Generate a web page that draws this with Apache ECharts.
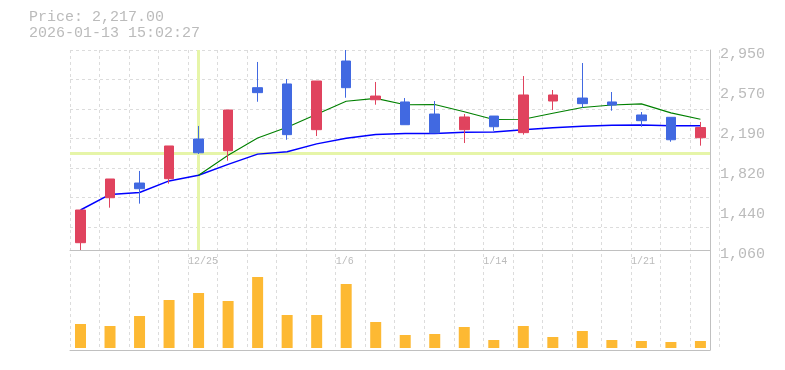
<!DOCTYPE html>
<html>
<head>
<meta charset="utf-8">
<script src="https://cdn.jsdelivr.net/npm/echarts@6/dist/echarts.min.js"></script>
<style>
html,body{margin:0;padding:0;background:#fff;}
#c{width:785px;height:370px;}
</style>
</head>
<body>
<div id="c"></div>
<script>
// ---- data ----
const dates = ['12/19','12/22','12/23','12/24','12/25','12/26','12/29','12/30','1/5','1/6','1/7','1/8','1/9','1/13','1/14','1/15','1/16','1/19','1/20','1/21','1/22','1/23'];
const openP  = [1129,1554,1693,1734,2109,1998,2594,2629,2197,2846,2480,2459,2345,2197,2326,2169,2468,2496,2459,2336,2314,2121];
const closeP = [1438,1731,1639,2043,1979,2383,2547,2150,2657,2594,2515,2244,2166,2317,2225,2525,2525,2443,2430,2282,2102,2217];
const lowP   = [1060,1460,1498,1687,1967,1904,2461,2102,2137,2499,2433,2244,2166,2071,2187,2150,2383,2405,2376,2225,2083,2046];
const highP  = [1438,1731,1807,2043,2232,2383,2837,2676,2657,2950,2648,2496,2468,2345,2326,2704,2572,2827,2553,2364,2314,2270];
const ma5    = [null,null,null,null,1766,1955,2118,2220,2343,2466,2493,2432,2435,2367,2293,2295,2352,2407,2430,2441,2356,2295];
const ma25   = [1438,1585,1603,1713,1766,1869,1966,1989,2063,2116,2152,2160,2161,2172,2175,2197,2216,2229,2240,2242,2235,2234];
const volume = [24,22,32,48,55,47,71,33,33,64,26,13,14,21,8,22,11,17,8,7,6,7];
const yTickValues = [1060,1438,1816,2194,2572,2950];
const yTickLabels = ['1,060','1,440','1,820','2,190','2,570','2,950'];
const xLabelIdx = [4,9,14,19];
const crossIdx = 4;
const titlePrice = 'Price: 2,217.00';
const titleTime = '2026-01-13 15:02:27';

// ---- layout constants ----
const cell = 29.52;
const xMin = -10.5 / cell;
const xMax = xMin + 640 / cell;
const FONT = 'Liberation Mono';
const txt = '#bbb';
const border = '#c0c0c0';
const gridCol = '#dcdcdc';
const upCol = '#e0435e';
const downCol = '#4169e1';

const chart = echarts.init(document.getElementById('c'), null, {renderer: 'canvas'});
const hidden = {show:false};
chart.setOption({
  animation: false,
  backgroundColor: '#fff',
  title: [
    {text: titlePrice, left: 29, top: 10, padding: 0, textStyle: {fontFamily: FONT, fontSize: 15, fontWeight: 'normal', color: txt}},
    {text: titleTime, left: 29, top: 25.5, padding: 0, textStyle: {fontFamily: FONT, fontSize: 15, fontWeight: 'normal', color: txt}}
  ],
  grid: [
    {left: 70, top: 50, width: 640, height: 200},
    {left: 70, top: 250, width: 640, height: 100},
    {left: 70, top: 50, width: 22 * cell, height: 300}
  ],
  xAxis: [
    {type: 'value', gridIndex: 0, min: xMin, max: xMax, position: 'bottom',
      axisLine: {show: true, onZero: false, lineStyle: {color: border, width: 1}},
      axisTick: hidden, splitLine: hidden,
      axisLabel: {show: true, customValues: xLabelIdx.map(i => i + xMin), align: 'left', margin: 6,
        formatter: v => dates[Math.round(v - xMin)],
        fontFamily: FONT, fontSize: 10, color: txt}},
    {type: 'value', gridIndex: 1, min: xMin, max: xMax, position: 'bottom',
      axisLine: {show: true, onZero: false, lineStyle: {color: border, width: 1}},
      axisTick: hidden, splitLine: hidden, axisLabel: hidden},
    {type: 'value', gridIndex: 2, min: 0, max: 22, interval: 1,
      axisLine: hidden, axisTick: hidden, axisLabel: hidden,
      splitLine: {show: true, lineStyle: {color: gridCol, type: [3,3], width: 1}}}
  ],
  yAxis: [
    {type: 'value', gridIndex: 0, min: 1060, max: 2950, position: 'right',
      axisLine: {show: true, onZero: false, lineStyle: {color: border, width: 1}},
      axisTick: hidden, splitLine: hidden,
      axisLabel: {show: true, customValues: yTickValues, margin: 10, verticalAlign: 'top', lineHeight: 8,
        formatter: v => yTickLabels[yTickValues.indexOf(v)],
        fontFamily: FONT, fontSize: 15, color: txt}},
    {type: 'value', gridIndex: 0, min: 0, max: 200 / cell, interval: 1, inverse: true, position: 'left',
      axisLine: hidden, axisTick: hidden, axisLabel: hidden,
      splitLine: {show: true, lineStyle: {color: gridCol, type: [3,3], width: 1}}},
    {type: 'value', gridIndex: 1, min: -2, max: 98, position: 'right',
      axisLine: {show: true, onZero: false, lineStyle: {color: border, width: 1}},
      axisTick: hidden, splitLine: hidden, axisLabel: hidden},
    {type: 'value', gridIndex: 2, min: 0, max: 1,
      axisLine: hidden, axisTick: hidden, axisLabel: hidden, splitLine: hidden}
  ],
  series: [
    {type: 'line', name: 'cross', xAxisIndex: 0, yAxisIndex: 0, z: 1,
      data: closeP.map((c, i) => [i, c]), showSymbol: false, symbol: 'none',
      lineStyle: {opacity: 0}, silent: true,
      markLine: {z: 1, silent: true, symbol: 'none', animation: false,
        label: {show: false},
        lineStyle: {color: '#e6f5a8', width: 3, type: 'solid', opacity: 1},
        emphasis: {disabled: true},
        data: [{xAxis: crossIdx}, {yAxis: closeP[crossIdx]}]}},
    {type: 'line', name: 'MA25', xAxisIndex: 0, yAxisIndex: 0, z: 6,
      data: ma25.map((v, i) => [i, v]), symbol: 'none', showSymbol: false,
      lineStyle: {color: '#0000ff', width: 1.5}},
    {type: 'line', name: 'MA5', xAxisIndex: 0, yAxisIndex: 0, z: 6,
      data: ma5.map((v, i) => [i, v]), symbol: 'none', showSymbol: false,
      lineStyle: {color: '#008000', width: 1.1}},
    {type: 'candlestick', xAxisIndex: 0, yAxisIndex: 0, z: 10,
      dimensions: ['x','open','close','low','high'],
      encode: {x: 0, y: [1,2,3,4]},
      data: dates.map((d, i) => [i, openP[i], closeP[i], lowP[i], highP[i]]),
      barWidth: 10,
      itemStyle: {color: upCol, color0: downCol, borderColor: upCol, borderColor0: downCol, borderWidth: 1}},
    {type: 'bar', xAxisIndex: 1, yAxisIndex: 2, z: 5,
      data: volume.map((v, i) => [i, v]), barWidth: 11,
      itemStyle: {color: '#fdb933'}}
  ]
});
</script>
</body>
</html>
